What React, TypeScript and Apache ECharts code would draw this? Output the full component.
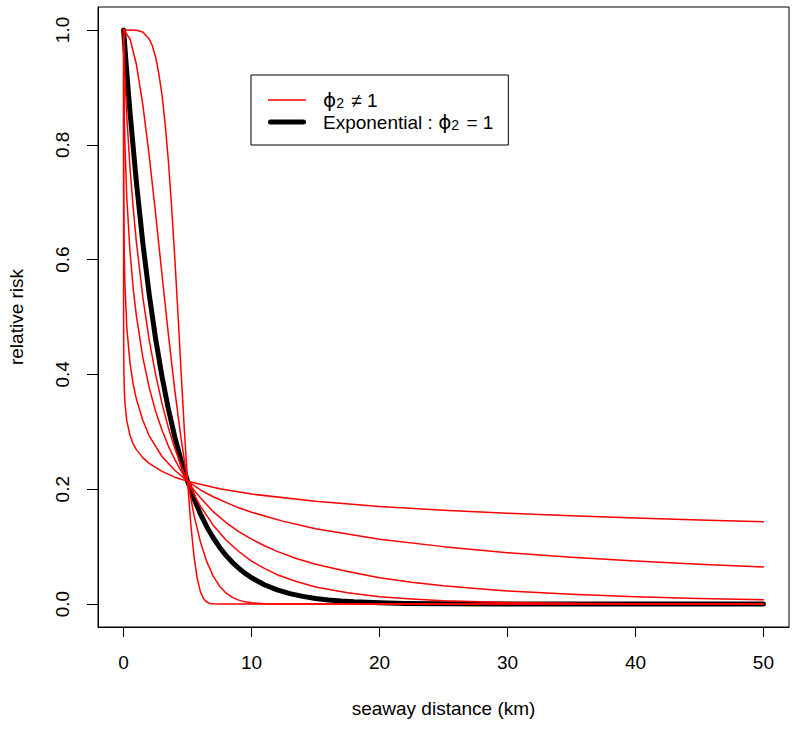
import React, { useEffect, useRef } from "react";
import * as echarts from "echarts";

// tick positions
const xTicks = [0, 10, 20, 30, 40, 50];
const yTicks = [0, 0.2, 0.4, 0.6, 0.8, 1.0];

// curves: [distance km, relative risk]
const curvePhi010 = [
  [0, 1], [0.001, 0.518], [0.005, 0.462], [0.02, 0.412], [0.05, 0.378], [0.1, 0.352],
  [0.25, 0.319], [0.5, 0.294], [0.75, 0.279], [1, 0.269], [1.5, 0.255], [2, 0.245],
  [3, 0.231], [4, 0.221], [5, 0.214], [7.5, 0.201], [10, 0.1915], [15, 0.179], [20, 0.17],
  [25, 0.1635], [30, 0.158], [35, 0.1537], [40, 0.15], [45, 0.1465], [50, 0.1435],
];
const curvePhi025 = [
  [0, 1], [0.001, 0.832], [0.01, 0.722], [0.05, 0.614], [0.1, 0.56], [0.25, 0.482],
  [0.5, 0.42], [0.75, 0.383], [1, 0.357], [1.5, 0.32], [2, 0.293], [3, 0.257],
  [4, 0.233], [5, 0.214], [6, 0.199], [7, 0.1869], [8, 0.177], [9, 0.1676], [10, 0.16],
  [12.5, 0.144], [15, 0.131], [20, 0.113], [25, 0.1], [30, 0.0895], [35, 0.0814],
  [40, 0.0748], [45, 0.0692], [50, 0.0644],
];
const curvePhi050 = [
  [0, 1], [0.01, 0.933], [0.05, 0.857], [0.1, 0.804], [0.25, 0.708], [0.5, 0.614],
  [0.75, 0.55], [1, 0.502], [1.5, 0.43], [2, 0.377], [2.5, 0.336], [3, 0.303],
  [3.5, 0.2752], [4, 0.252], [4.5, 0.2316], [5, 0.214], [5.5, 0.1984], [6, 0.185],
  [7, 0.161], [8, 0.142], [9, 0.1263], [10, 0.113], [11, 0.1015], [12, 0.0917],
  [13.5, 0.0794], [15, 0.0692], [17.5, 0.0565], [20, 0.0458], [22.5, 0.038],
  [25, 0.0318], [27.5, 0.0269], [30, 0.0229], [35, 0.0169], [40, 0.0128], [45, 0.0098],
  [50, 0.0076],
];
const curvePhi075 = [
  [0, 1], [0.01, 0.9855], [0.05, 0.952], [0.1, 0.921], [0.25, 0.85], [0.5, 0.76],
  [0.75, 0.69], [1, 0.6305], [1.5, 0.535], [2, 0.46], [2.5, 0.4], [3, 0.3495],
  [3.5, 0.307], [4, 0.2714], [4.5, 0.2406], [5, 0.214], [5.5, 0.1909], [6, 0.1707],
  [7, 0.1374], [8, 0.1115], [9, 0.0915], [10, 0.0748], [11, 0.0621], [12, 0.0511],
  [13.5, 0.0394], [15, 0.0297], [17.5, 0.0195], [20, 0.0128], [22.5, 0.0087],
  [25, 0.0058], [30, 0.0027], [35, 0.0013], [40, 0.0007], [45, 0.0003], [50, 0.0002],
];
const curveExponential = [
  [0, 1], [0.25, 0.926], [0.5, 0.857], [1, 0.7346], [1.5, 0.6296], [2, 0.5396],
  [2.5, 0.4625], [3, 0.3964], [3.5, 0.3398], [4, 0.2912], [4.5, 0.2496], [5, 0.214],
  [5.5, 0.1834], [6, 0.1572], [6.5, 0.1347], [7, 0.1155], [7.5, 0.099], [8, 0.0848],
  [8.5, 0.0727], [9, 0.0623], [9.5, 0.0534], [10, 0.0458], [11, 0.0336], [12, 0.0247],
  [13, 0.0181], [14, 0.0133], [15, 0.0098], [16, 0.0072], [17, 0.0053], [18, 0.0039],
  [20, 0.0021], [22, 0.0011], [25, 0.00045], [30, 0.0001], [40, 0], [50, 0],
];
const curvePhi200 = [
  [0, 1], [0.5, 0.9847], [1, 0.9402], [1.5, 0.8704], [2, 0.7814], [2.5, 0.6801],
  [3, 0.574], [3.5, 0.4697], [4, 0.3727], [4.5, 0.2868], [5, 0.214], [5.5, 0.1548],
  [6, 0.1086], [6.5, 0.0738], [7, 0.0487], [7.5, 0.0311], [8, 0.0193], [8.5, 0.0116],
  [9, 0.0068], [9.5, 0.0038], [10, 0.0021], [11, 0.0006], [12, 0.0001], [15, 0], [50, 0],
];
const curvePhi500 = [
  [0, 1], [1, 0.9995], [1.5, 0.9963], [2, 0.9843], [2.25, 0.9723], [2.5, 0.953],
  [2.75, 0.9243], [3, 0.887], [3.25, 0.8364], [3.5, 0.7717], [3.75, 0.6929], [4, 0.6033],
  [4.25, 0.5058], [4.5, 0.4023], [4.75, 0.3028], [5, 0.214], [5.25, 0.1397], [5.5, 0.0834],
  [5.75, 0.045], [6, 0.0216], [6.25, 0.0091], [6.5, 0.0033], [6.75, 0.001], [7, 0.0003],
  [7.5, 0], [50, 0],
];

const redCurves = [curvePhi010, curvePhi025, curvePhi050, curvePhi075, curvePhi200, curvePhi500];

const redName = "ϕ2 ≠ 1";
const blackName = "Exponential : ϕ2 = 1";

const FONT = "'Liberation Sans', Arial, Helvetica, sans-serif";

export default function App() {
  const ref = useRef<HTMLDivElement>(null);

  useEffect(() => {
    if (!ref.current) return;
    const chart = echarts.init(ref.current, null, { renderer: "svg" });

    const series: any[] = [
      {
        name: blackName,
        type: "line",
        data: curveExponential,
        showSymbol: false,
        symbol: "none",
        smooth: false,
        lineStyle: { color: "#000", width: 5, cap: "round", join: "round" },
        itemStyle: { color: "#000" },
        z: 2,
      },
      ...redCurves.map((c) => ({
        name: redName,
        type: "line",
        data: c,
        showSymbol: false,
        symbol: "none",
        smooth: false,
        lineStyle: { color: "#ff0000", width: 1.5, cap: "round", join: "round" },
        itemStyle: { color: "#ff0000" },
        z: 3,
      })),
    ];

    const option: any = {
      animation: false,
      backgroundColor: "#fff",
      textStyle: { fontFamily: FONT },
      grid: {
        left: 98,
        right: 7,
        top: 7,
        bottom: 102,
        show: true,
        borderColor: "#000",
        borderWidth: 1,
        backgroundColor: "transparent",
        containLabel: false,
        outerBoundsMode: "none",
      },
      xAxis: {
        type: "value",
        min: -2,
        max: 52,
        name: "seaway distance (km)",
        nameLocation: "middle",
        nameGap: 72,
        nameTextStyle: { fontSize: 19, color: "#000", fontFamily: FONT },
        axisLine: { show: true, onZero: false, lineStyle: { color: "#000", width: 1 } },
        axisTick: { show: true, inside: false, length: 10, customValues: xTicks, lineStyle: { color: "#000", width: 1 } },
        axisLabel: {
          show: true,
          customValues: xTicks,
          fontSize: 19,
          color: "#000",
          margin: 26,
          fontFamily: FONT,
        },
        splitLine: { show: false },
      },
      yAxis: {
        type: "value",
        min: -0.04,
        max: 1.04,
        name: "relative risk",
        nameLocation: "middle",
        nameGap: 72,
        nameTextStyle: { fontSize: 19, color: "#000", fontFamily: FONT },
        axisLine: { show: true, onZero: false, lineStyle: { color: "#000", width: 1 } },
        axisTick: { show: true, inside: false, length: 11, customValues: yTicks, lineStyle: { color: "#000", width: 1 } },
        axisLabel: {
          show: true,
          customValues: yTicks,
          rotate: 90,
          fontSize: 19,
          color: "#000",
          margin: 26,
          fontFamily: FONT,
          formatter: (v: number) => v.toFixed(1),
        },
        splitLine: { show: false },
      },
      legend: {
        show: true,
        orient: "vertical",
        left: 251,
        top: 75,
        selectedMode: false,
        borderColor: "#000",
        borderWidth: 1,
        backgroundColor: "#fff",
        padding: [15, 15, 13, 17],
        itemGap: 2,
        itemWidth: 38,
        itemHeight: 14,
        symbolKeepAspect: true,
        data: [
          { name: redName, icon: "path://M0,0H38V1.6H0Z" },
          {
            name: blackName,
            icon: "path://M2.5,0H35.5A2.5,2.5 0 0 1 35.5,5H2.5A2.5,2.5 0 0 1 2.5,0Z",
          },
        ],
        formatter: (name: string) =>
          name === redName
            ? "{sp| }{p|ϕ}{s|2}{t| ≠ 1}"
            : "{sp| }{t|Exponential : }{p|ϕ}{s|2}{t| = 1}",
        textStyle: {
          color: "#000",
          fontFamily: FONT,
          fontSize: 19,
          lineHeight: 20,
          rich: {
            sp: { width: 12, fontSize: 19, lineHeight: 20 },
            t: { fontSize: 19, lineHeight: 20, color: "#000", fontFamily: FONT },
            p: { fontSize: 20, lineHeight: 20, color: "#000", fontFamily: "'DejaVu Sans', sans-serif" },
            s: { fontSize: 14, lineHeight: 8, verticalAlign: "bottom", color: "#000", fontFamily: FONT, padding: [0, 2, 0, 0] },
          },
        },
      },
      series,
    };

    chart.setOption(option);
    return () => chart.dispose();
  }, []);

  return (
    <div
      ref={ref}
      style={{ position: "absolute", left: 0, top: 0, width: "796px", height: "729px" }}
    />
  );
}
